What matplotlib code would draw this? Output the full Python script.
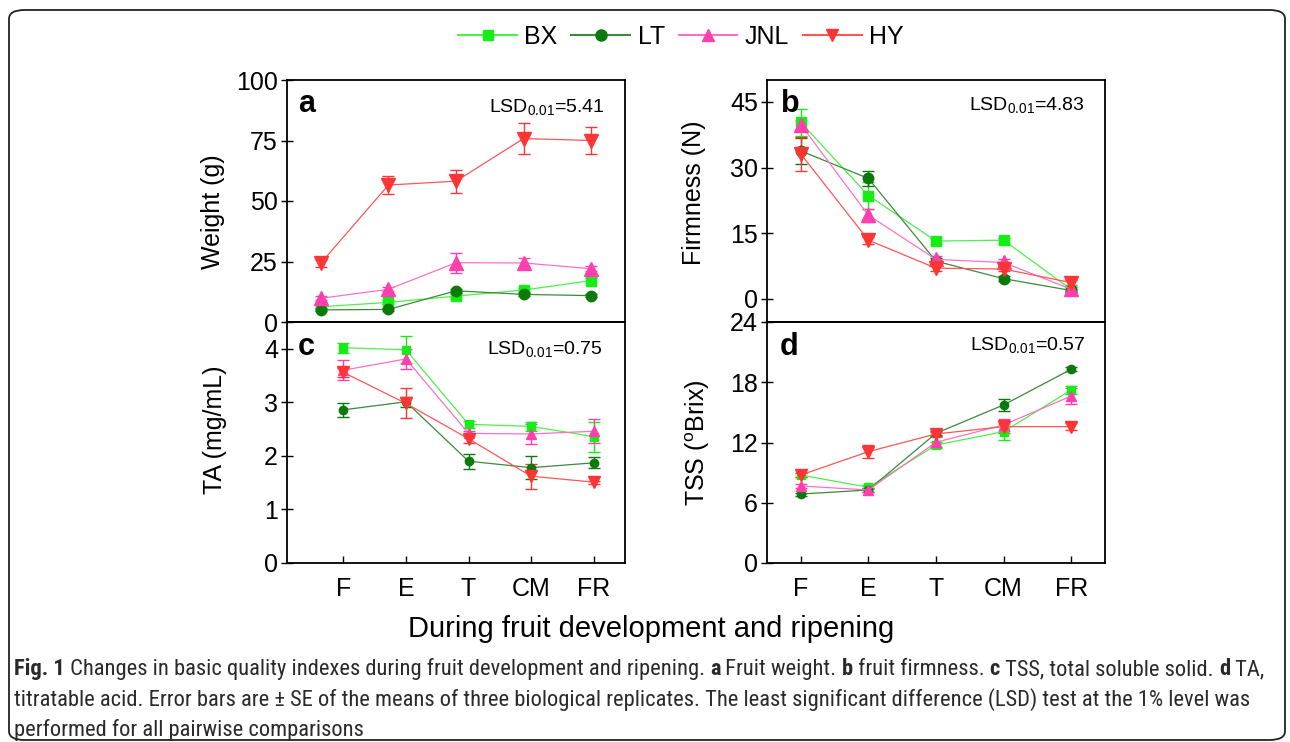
import matplotlib
matplotlib.use('Agg')
import matplotlib.pyplot as plt
from matplotlib import font_manager as fm
from matplotlib.patches import FancyBboxPatch
from matplotlib.lines import Line2D

# ---------------- data ----------------
stages = ['F', 'E', 'T', 'CM', 'FR']
cultivars = ['BX', 'LT', 'JNL', 'HY']

weight_BX = [6.3, 8.1, 10.7, 13.2, 17.1]
weight_LT = [5.0, 5.2, 12.9, 11.4, 10.9]
weight_JNL = [9.8, 13.5, 24.5, 24.4, 22.0]
weight_HY = [24.3, 56.6, 58.2, 75.8, 75.0]
weight_err_BX = [0.8, 0.8, 0.8, 1.0, 1.0]
weight_err_LT = [0.6, 0.6, 0.8, 0.6, 0.6]
weight_err_JNL = [0.8, 0.8, 4.1, 2.0, 1.0]
weight_err_HY = [1.5, 3.6, 4.8, 6.3, 5.4]

firm_BX = [40.3, 23.6, 13.2, 13.4, 2.1]
firm_LT = [33.8, 27.5, 8.6, 4.6, 1.9]
firm_JNL = [39.8, 19.1, 9.0, 8.3, 2.2]
firm_HY = [33.1, 13.4, 7.0, 6.8, 3.7]
firm_err_BX = [3.0, 3.0, 0.6, 0.6, 0.5]
firm_err_LT = [3.0, 1.8, 0.8, 0.5, 0.4]
firm_err_JNL = [1.0, 1.5, 0.8, 0.8, 0.5]
firm_err_HY = [3.8, 0.8, 0.6, 0.5, 0.5]

ta_BX = [4.02, 3.98, 2.59, 2.55, 2.36]
ta_LT = [2.86, 3.01, 1.90, 1.78, 1.87]
ta_JNL = [3.60, 3.81, 2.42, 2.41, 2.46]
ta_HY = [3.56, 2.98, 2.32, 1.62, 1.51]
ta_err_BX = [0.09, 0.25, 0.06, 0.09, 0.28]
ta_err_LT = [0.13, 0.09, 0.14, 0.22, 0.10]
ta_err_JNL = [0.19, 0.18, 0.05, 0.18, 0.22]
ta_err_HY = [0.08, 0.28, 0.08, 0.23, 0.03]

tss_BX = [8.76, 7.54, 11.75, 13.08, 17.23]
tss_LT = [6.87, 7.27, 12.92, 15.74, 19.29]
tss_JNL = [7.67, 7.27, 12.02, 13.75, 16.63]
tss_HY = [8.76, 11.09, 12.85, 13.58, 13.58]
tss_err_BX = [0.2, 0.2, 0.3, 0.8, 0.4]
tss_err_LT = [0.15, 0.15, 0.2, 0.57, 0.2]
tss_err_JNL = [0.2, 0.2, 0.5, 0.6, 0.8]
tss_err_HY = [0.2, 0.66, 0.2, 0.66, 0.35]

lsd_values = ['5.41', '4.83', '0.75', '0.57']
panel_letters = ['a', 'b', 'c', 'd']
ylabels = ['Weight (g)', 'Firmness (N)', 'TA (mg/mL)', r'TSS ($^{\mathrm{o}}$Brix)']
yticks_a = [0, 25, 50, 75, 100]
yticks_b = [0, 15, 30, 45]
yticks_c = [0, 1, 2, 3, 4]
yticks_d = [0, 6, 12, 18, 24]
xlabel = 'During fruit development and ripening'
caption_lines = [
    [('Fig. 1', True), (' Changes in basic quality indexes during fruit development and ripening. ', False),
     ('a', True), (' Fruit weight. ', False), ('b', True), (' fruit firmness. ', False),
     ('c', True), (' TSS, total soluble solid. ', False), ('d', True), (' TA,', False)],
    [('titratable acid. Error bars are \u00b1 SE of the means of three biological replicates. '
      'The least significant difference (LSD) test at the 1% level was', False)],
    [('performed for all pairwise comparisons', False)],
]

# ---------------- style ----------------
FONT = 'Liberation Sans'
plt.rcParams['font.family'] = [FONT, 'DejaVu Sans']
plt.rcParams['mathtext.fontset'] = 'custom'
plt.rcParams['mathtext.rm'] = FONT
plt.rcParams['mathtext.it'] = FONT + ':italic'
plt.rcParams['mathtext.bf'] = FONT + ':bold'

W, H = 1290, 742
fig = plt.figure(figsize=(W / 100, H / 100), dpi=100)
fig.patch.set_facecolor('white')

marker_cols = {'BX': '#14EE14', 'LT': '#0B7A0B', 'JNL': '#FF3FAE', 'HY': '#FF3535'}
line_cols = {'BX': '#4CF04C', 'LT': '#3A8A3A', 'JNL': '#FF70C4', 'HY': '#FF5555'}
markers = {'BX': 's', 'LT': 'o', 'JNL': '^', 'HY': 'v'}


def px_axes(x0, y0, x1, y1):
    return fig.add_axes([x0 / W, 1 - y1 / H, (x1 - x0) / W, (y1 - y0) / H])


ax_a = px_axes(287, 80, 625, 322)
ax_c = px_axes(287, 322, 625, 563)
ax_b = px_axes(767, 80, 1105, 322)
ax_d = px_axes(767, 322, 1105, 563)

panels = [
    (ax_a, [weight_BX, weight_LT, weight_JNL, weight_HY],
     [weight_err_BX, weight_err_LT, weight_err_JNL, weight_err_HY], (0, 100), yticks_a, (0.5, 5.5), 'big'),
    (ax_b, [firm_BX, firm_LT, firm_JNL, firm_HY],
     [firm_err_BX, firm_err_LT, firm_err_JNL, firm_err_HY], (-5.3, 50), yticks_b, (0.5, 5.5), 'big'),
    (ax_c, [ta_BX, ta_LT, ta_JNL, ta_HY],
     [ta_err_BX, ta_err_LT, ta_err_JNL, ta_err_HY], (0, 4.5), yticks_c, (0.1, 5.5), 'small'),
    (ax_d, [tss_BX, tss_LT, tss_JNL, tss_HY],
     [tss_err_BX, tss_err_LT, tss_err_JNL, tss_err_HY], (0, 24), yticks_d, (0.5, 5.5), 'small'),
]

msizes = {'big': {'BX': 6.5, 'LT': 7.5, 'JNL': 9.5, 'HY': 10},
          'small': {'BX': 5.5, 'LT': 6, 'JNL': 7.5, 'HY': 8}}

xpos = list(range(1, len(stages) + 1))

for i, (ax, series, errs, ylim, yt, xlim, sz) in enumerate(panels):
    for cv, vals, err in zip(cultivars, series, errs):
        ax.errorbar(xpos, vals, yerr=err, color=line_cols[cv], lw=0.9,
                    marker=markers[cv], ms=msizes[sz][cv], mfc=marker_cols[cv], mec=marker_cols[cv],
                    ecolor=marker_cols[cv], elinewidth=1.0, capsize=4, capthick=1.0)
    ax.set_xlim(*xlim)
    ax.set_ylim(*ylim)
    ax.set_yticks(yt)
    ax.set_xticks(xpos)
    for s in ax.spines.values():
        s.set_linewidth(1.3)
        s.set_color('black')
    ax.tick_params(axis='y', direction='inout', length=9, width=1.0, labelsize=18, pad=2)
    if i < 2:
        ax.tick_params(axis='x', length=0, labelbottom=False)
    else:
        ax.set_xticklabels(stages)
        ax.tick_params(axis='x', direction='in', length=5, width=1.0, labelsize=18, pad=10)
    ax.set_facecolor('none')

# panel letters and LSD texts
letter_pos = [(0.033, 0.868), (0.041, 0.868), (0.033, 0.863), (0.038, 0.863)]
lsd_pos = [(0.94, 0.866), (0.94, 0.876), (0.935, 0.866), (0.94, 0.884)]
for ax, let, (lx, ly), lsd, (sx, sy) in zip([ax_a, ax_b, ax_c, ax_d], panel_letters, letter_pos,
                                               lsd_values, lsd_pos):
    ax.text(lx, ly, let, transform=ax.transAxes, fontsize=22, fontweight='bold',
            ha='left', va='baseline')
    ax.text(sx, sy, r'LSD$_{0.01}$=' + lsd, transform=ax.transAxes, fontsize=14,
            ha='right', va='baseline')

# y labels
ylab_pos = [(213, 212), (694, 193), (215, 430), (698, 443)]
for lab, (x, y) in zip(ylabels, ylab_pos):
    fig.text(x / W, 1 - y / H, lab, rotation=90, ha='center', va='center', fontsize=18)

fig.text(651 / W, 1 - 629 / H, xlabel, ha='center', va='center', fontsize=21)

# legend
handles = [Line2D([0], [0], color=line_cols[cv], lw=1.5, marker=markers[cv],
                  ms={'BX': 7, 'LT': 8, 'JNL': 9, 'HY': 9}[cv],
                  mfc=marker_cols[cv], mec=marker_cols[cv]) for cv in cultivars]
fig.legend(handles, cultivars, ncol=4, loc='center', bbox_to_anchor=(681 / W, 1 - 37 / H),
           frameon=False, fontsize=18, handlelength=2.35, handletextpad=0.3,
           columnspacing=0.55, borderpad=0.1)

# outer rounded frame
frame = FancyBboxPatch((9 / W, 1 - 740 / H), (1285 - 9) / W, (740 - 10) / H,
                       boxstyle='round,pad=0,rounding_size=0.012', transform=fig.transFigure,
                       fill=False, lw=1.3, ec='#222222', zorder=0)
fig.patches.append(frame)

# caption font: prefer a condensed family if one is installed, else Roboto
normal_fp = fm.FontProperties(family='Roboto')
bold_fp = fm.FontProperties(family='Roboto', weight='bold')
cands = []
for f in fm.fontManager.ttflist:
    nm = f.name
    if 'Narrow' in nm or 'Condensed' in nm or f.stretch in ('condensed', 'semi-condensed'):
        cands.append(f)
pref = ['Roboto Condensed', 'Liberation Sans Narrow', 'Open Sans Condensed', 'DejaVu Sans']
for p in pref:
    fs = [f for f in cands if f.name == p]
    if fs:
        reg = [f for f in fs if f.weight in (400, 'normal', 'regular') and f.style == 'normal']
        bld = [f for f in fs if f.weight in (700, 'bold') and f.style == 'normal']
        if reg:
            normal_fp = fm.FontProperties(fname=reg[0].fname)
            bold_fp = fm.FontProperties(fname=bld[0].fname) if bld else fm.FontProperties(fname=reg[0].fname)
            break

renderer = fig.canvas.get_renderer()


def line_width(segs, size):
    total = 0
    for txt, b in segs:
        t = fig.text(0, 0, txt, fontproperties=bold_fp if b else normal_fp, size=size)
        total += t.get_window_extent(renderer).width
        t.remove()
    return total


target = 1265 - 14
base_size = 14
w0 = line_width(caption_lines[0], base_size)
cap_size = min(base_size * target / w0, 17)

baselines = [675, 706, 736]
for segs, yb in zip(caption_lines, baselines):
    x = 14
    for txt, b in segs:
        t = fig.text(x / W, 1 - yb / H, txt, fontproperties=bold_fp if b else normal_fp,
                     size=cap_size, ha='left', va='baseline', color='#2a2a2a')
        x += t.get_window_extent(renderer).width

fig.savefig('out.png', dpi=100)
